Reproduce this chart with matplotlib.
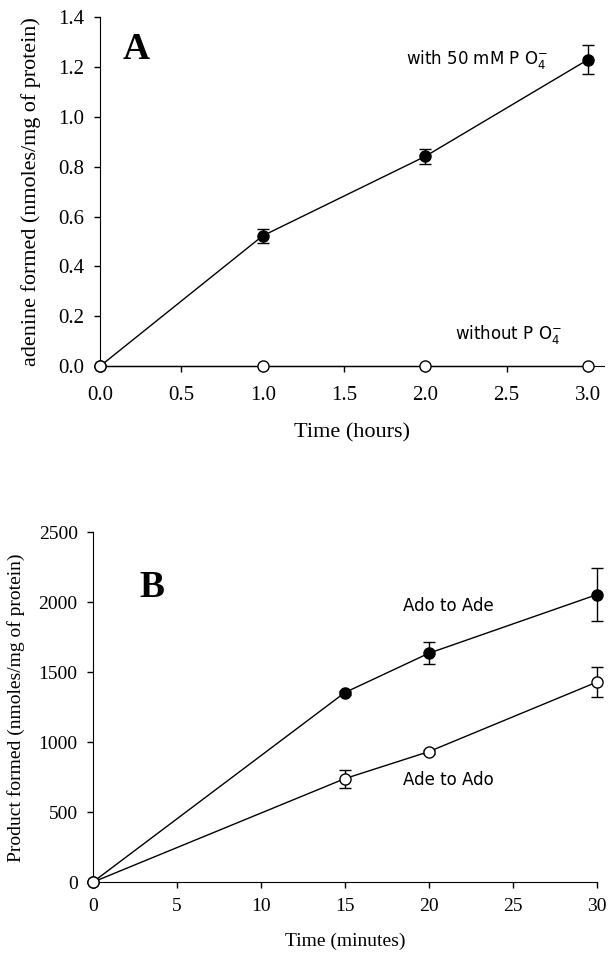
import matplotlib
matplotlib.use("Agg")
import matplotlib.pyplot as plt
from matplotlib.ticker import FormatStrFormatter

# Panel A data
hours = [0.0, 1.0, 2.0, 3.0]
with_po4 = [0.0, 0.523, 0.842, 1.230]
with_po4_err = [0.0, 0.027, 0.031, 0.057]
without_po4 = [0.0, 0.0, 0.0, 0.0]

# Panel B data
minutes = [0, 15, 20, 30]
ado_to_ade = [0, 1355, 1636, 2055]
ado_to_ade_err = [0, 15, 80, 190]
ade_to_ado = [0, 740, 933, 1430]
ade_to_ado_err = [0, 65, 15, 105]

serif = "Liberation Serif"
sans = "DejaVu Sans"

fig = plt.figure(figsize=(6.14, 9.61), dpi=100)

def style(ax, fs, xpad, ypad):
    for s in ["top", "right"]:
        ax.spines[s].set_visible(False)
    ax.tick_params(direction="out", length=4.3, width=1, labelsize=fs)
    ax.tick_params(axis="x", pad=xpad)
    ax.tick_params(axis="y", pad=ypad)
    for lab in ax.get_xticklabels() + ax.get_yticklabels():
        lab.set_fontfamily(serif)

mk = dict(marker="o", markersize=8, color="black", lw=1, clip_on=False,
          capsize=4, elinewidth=1, capthick=1, zorder=3)

# Panel A
axA = fig.add_axes([0.163, 0.619, 0.821, 0.363])
axA.errorbar(hours, with_po4, yerr=with_po4_err, mfc="black", mec="black", **mk)
axA.plot(hours, without_po4, marker="o", markersize=8, color="black", lw=1,
         mfc="white", mec="black", clip_on=False, zorder=4)
axA.set_xlim(0, 3.1)
axA.set_ylim(0, 1.4)
axA.set_xticks([0, 0.5, 1.0, 1.5, 2.0, 2.5, 3.0])
axA.set_yticks([0, 0.2, 0.4, 0.6, 0.8, 1.0, 1.2, 1.4])
axA.xaxis.set_major_formatter(FormatStrFormatter("%.1f"))
axA.yaxis.set_major_formatter(FormatStrFormatter("%.1f"))
style(axA, 15, 10, 7)
axA.set_xlabel("Time (hours)", fontfamily=serif, fontsize=16)
axA.set_ylabel("adenine formed (nmoles/mg of protein)", fontfamily=serif, fontsize=15.9)
axA.yaxis.set_label_coords(-0.117, 0.5)
axA.xaxis.set_label_coords(0.5, -0.163)
axA.text(0.14, 1.27, "A", fontfamily=serif, fontweight="bold", fontsize=27, va="center", ha="left")
axA.text(1.88, 1.23, "with 50 mM P O$_4^{-}$", fontfamily=sans, fontsize=12, va="center", ha="left")
axA.text(2.18, 0.125, "without P O$_4^{-}$", fontfamily=sans, fontsize=12, va="center", ha="left")

# Panel B
axB = fig.add_axes([0.151, 0.082, 0.821, 0.364])
axB.errorbar(minutes, ado_to_ade, yerr=ado_to_ade_err, mfc="black", mec="black", **mk)
axB.errorbar(minutes, ade_to_ado, yerr=ade_to_ado_err, mfc="white", mec="black", **mk)
axB.set_xlim(0, 30)
axB.set_ylim(0, 2500)
axB.set_xticks(range(0, 31, 5))
axB.set_yticks(range(0, 2501, 500))
style(axB, 14, 7, 6.5)
axB.set_xlabel("Time (minutes)", fontfamily=serif, fontsize=14)
axB.set_ylabel("Product formed (nmoles/mg of protein)", fontfamily=serif, fontsize=14)
axB.yaxis.set_label_coords(-0.135, 0.5)
axB.xaxis.set_label_coords(0.5, -0.145)
axB.text(2.8, 2107, "B", fontfamily=serif, fontweight="bold", fontsize=27, va="center", ha="left")
axB.text(18.45, 1971, "Ado to Ade", fontfamily=sans, fontsize=12, va="center", ha="left")
axB.text(18.45, 729, "Ade to Ado", fontfamily=sans, fontsize=12, va="center", ha="left")

fig.savefig("out.png", dpi=100)
